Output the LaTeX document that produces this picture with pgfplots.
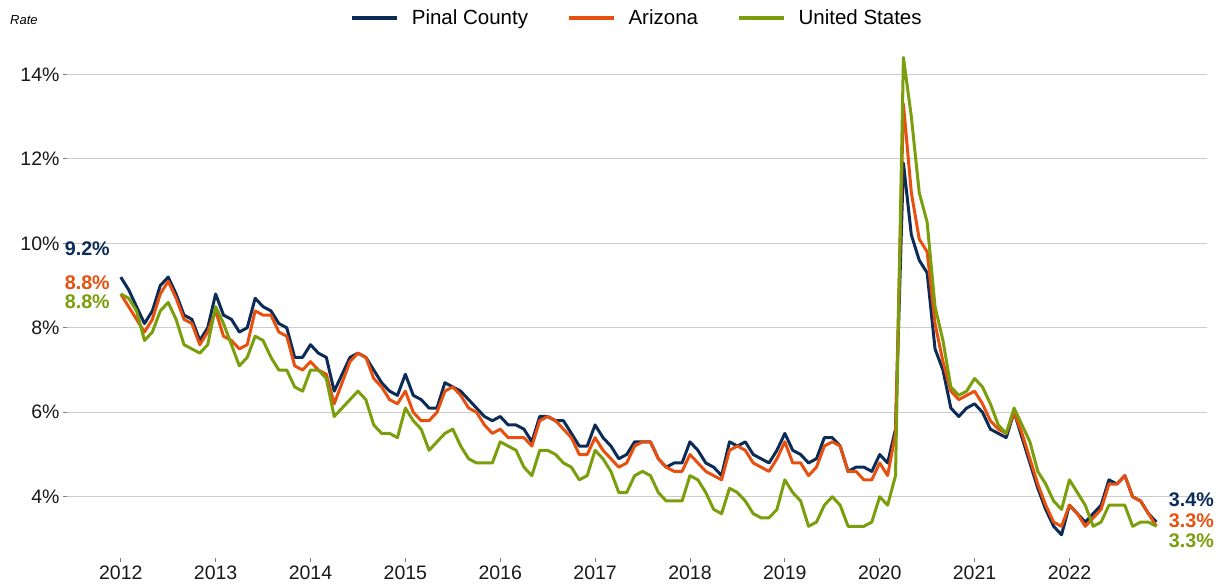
\documentclass[border=0pt]{standalone}
\usepackage{fontspec}
\setmainfont{Liberation Sans}
\usepackage{pgfplots}
\usepackage{pgfplotstable}
\pgfplotsset{compat=1.18}
\definecolor{navy}{RGB}{12,44,88}
\definecolor{orng}{RGB}{232,80,16}
\definecolor{grn}{RGB}{122,158,12}
\definecolor{gridc}{RGB}{204,204,204}

\pgfplotstableread{
pinal az us
9.2 8.8 8.8
8.9 8.5 8.7
8.5 8.2 8.4
8.1 7.9 7.7
8.4 8.2 7.9
9.0 8.8 8.4
9.2 9.1 8.6
8.8 8.7 8.2
8.3 8.2 7.6
8.2 8.1 7.5
7.7 7.6 7.4
8.0 7.9 7.6
8.8 8.4 8.5
8.3 7.8 8.1
8.2 7.7 7.6
7.9 7.5 7.1
8.0 7.6 7.3
8.7 8.4 7.8
8.5 8.3 7.7
8.4 8.3 7.3
8.1 7.9 7.0
8.0 7.8 7.0
7.3 7.1 6.6
7.3 7.0 6.5
7.6 7.2 7.0
7.4 7.0 7.0
7.3 6.9 6.8
6.5 6.2 5.9
6.9 6.7 6.1
7.3 7.2 6.3
7.4 7.4 6.5
7.3 7.3 6.3
7.0 6.8 5.7
6.7 6.6 5.5
6.5 6.3 5.5
6.4 6.2 5.4
6.9 6.5 6.1
6.4 6.0 5.8
6.3 5.8 5.6
6.1 5.8 5.1
6.1 6.0 5.3
6.7 6.5 5.5
6.6 6.6 5.6
6.5 6.4 5.2
6.3 6.1 4.9
6.1 6.0 4.8
5.9 5.7 4.8
5.8 5.5 4.8
5.9 5.6 5.3
5.7 5.4 5.2
5.7 5.4 5.1
5.6 5.4 4.7
5.3 5.2 4.5
5.9 5.8 5.1
5.9 5.9 5.1
5.8 5.8 5.0
5.8 5.6 4.8
5.5 5.4 4.7
5.2 5.0 4.4
5.2 5.0 4.5
5.7 5.4 5.1
5.4 5.1 4.9
5.2 4.9 4.6
4.9 4.7 4.1
5.0 4.8 4.1
5.3 5.2 4.5
5.3 5.3 4.6
5.3 5.3 4.5
4.9 4.9 4.1
4.7 4.7 3.9
4.8 4.6 3.9
4.8 4.6 3.9
5.3 5.0 4.5
5.1 4.8 4.4
4.8 4.6 4.1
4.7 4.5 3.7
4.5 4.4 3.6
5.3 5.1 4.2
5.2 5.2 4.1
5.3 5.1 3.9
5.0 4.8 3.6
4.9 4.7 3.5
4.8 4.6 3.5
5.1 4.9 3.7
5.5 5.3 4.4
5.1 4.8 4.1
5.0 4.8 3.9
4.8 4.5 3.3
4.9 4.7 3.4
5.4 5.2 3.8
5.4 5.3 4.0
5.2 5.2 3.8
4.6 4.6 3.3
4.7 4.6 3.3
4.7 4.4 3.3
4.6 4.4 3.4
5.0 4.8 4.0
4.8 4.5 3.8
5.6 5.5 4.5
11.9 13.3 14.4
10.2 11.2 13.0
9.6 10.1 11.2
9.3 9.8 10.5
7.5 8.1 8.5
7.0 7.2 7.7
6.1 6.5 6.6
5.9 6.3 6.4
6.1 6.4 6.5
6.2 6.5 6.8
6.0 6.2 6.6
5.6 5.8 6.2
5.5 5.6 5.7
5.4 5.5 5.5
6.0 6.0 6.1
5.4 5.5 5.7
4.8 4.9 5.3
4.2 4.3 4.6
3.7 3.8 4.3
3.3 3.4 3.9
3.1 3.3 3.7
3.8 3.8 4.4
3.6 3.6 4.1
3.4 3.3 3.8
3.6 3.5 3.3
3.8 3.7 3.4
4.4 4.3 3.8
4.3 4.3 3.8
4.5 4.5 3.8
4.0 4.0 3.3
3.9 3.9 3.4
3.6 3.6 3.4
3.4 3.3 3.3
}\datatable

\begin{document}
\begin{tikzpicture}
\begin{axis}[
  scale only axis,
  width=1140pt, height=509pt,
  xmin=-6.8, xmax=137.4,
  ymin=2.55, ymax=14.6,
  axis line style={draw=none},
  tick align=outside,
  major tick length=4pt,
  tick style={color=gray, line width=0.8pt},
  xtick pos=bottom, ytick pos=left,
  xtick={0,12,...,120},
  xticklabels={2012,2013,2014,2015,2016,2017,2018,2019,2020,2021,2022},
  ytick={4,6,8,10,12,14},
  yticklabels={4\%,6\%,8\%,10\%,12\%,14\%},
  ymajorgrids,
  grid style={color=gridc, line width=1pt},
  ticklabel style={font=\fontsize{19.5}{22}\selectfont, color=black!90},
  /pgf/number format/assume math mode=true,
  clip=false,
  legend columns=3,
  legend style={at={(0.5,1.061)}, anchor=center, draw=none, fill=none,
    font=\fontsize{20.5}{24}\selectfont,
    /tikz/every odd column/.append style={column sep=11pt},
    /tikz/every even column/.append style={column sep=37pt}},
  legend image code/.code={\draw[#1, line width=3.5pt] (0pt,0pt) -- (45pt,0pt);},
  line join=round,
]
\addplot[navy, line width=3pt, no markers] table[x expr=\coordindex, y=pinal] {\datatable};
\addlegendentry{Pinal County}
\addplot[orng, line width=3pt, no markers] table[x expr=\coordindex, y=az] {\datatable};
\addlegendentry{Arizona}
\addplot[grn, line width=3pt, no markers] table[x expr=\coordindex, y=us] {\datatable};
\addlegendentry{United States}

\node[anchor=east, text=navy, font=\fontsize{19.7}{22}\selectfont\bfseries, inner sep=0pt] at (axis cs:-1.37,9.87) {9.2\%};
\node[anchor=east, text=orng, font=\fontsize{19.7}{22}\selectfont\bfseries, inner sep=0pt] at (axis cs:-1.37,9.06) {8.8\%};
\node[anchor=east, text=grn, font=\fontsize{19.7}{22}\selectfont\bfseries, inner sep=0pt] at (axis cs:-1.37,8.61) {8.8\%};
\node[anchor=west, text=navy, font=\fontsize{19.7}{22}\selectfont\bfseries, inner sep=0pt] at (axis cs:132.56,3.93) {3.4\%};
\node[anchor=west, text=orng, font=\fontsize{19.7}{22}\selectfont\bfseries, inner sep=0pt] at (axis cs:132.56,3.44) {3.3\%};
\node[anchor=west, text=grn, font=\fontsize{19.7}{22}\selectfont\bfseries, inner sep=0pt] at (axis cs:132.56,2.95) {3.3\%};
\node[anchor=west, font=\fontsize{13}{15}\selectfont\itshape, inner sep=0pt] at ([xshift=-57pt, yshift=29pt]rel axis cs:0,1) {Rate};
\coordinate (bl) at (rel axis cs:0,0);
\end{axis}
\pgfresetboundingbox
\path[use as bounding box] (bl) ++(-67pt,-29pt) rectangle ++(1222pt,587pt);
\end{tikzpicture}
\end{document}
